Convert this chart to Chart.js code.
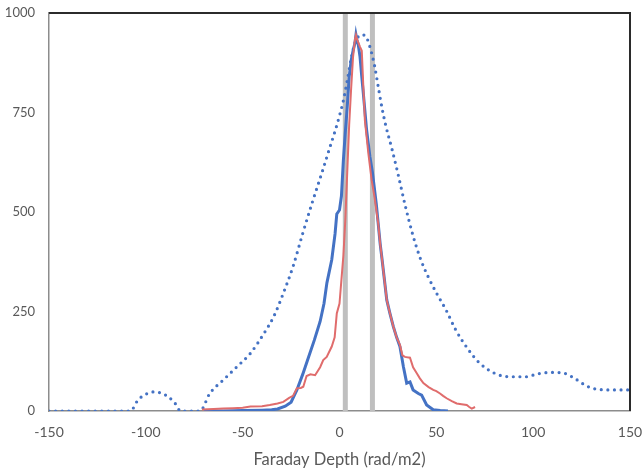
<!DOCTYPE html>
<html>
<head>
<meta charset="utf-8">
<style>
  html, body { margin: 0; padding: 0; background: #fff; }
  canvas { display: block; }
</style>
<script src="https://cdn.jsdelivr.net/npm/chart.js@4.4.1/dist/chart.umd.min.js"></script>
</head>
<body>
<canvas id="chart" width="643" height="470"></canvas>
<script>
// wide (dotted) spectrum
const wideX = [-150, -140, -130, -120, -108, -104, -100, -96, -92, -88, -85, -82, -72, -67, -60, -53, -46, -39, -34, -29, -24, -19, -14, -9, -5, -2, 0, 2, 4, 6, 8, 10, 12, 14, 16, 18, 20, 22, 24, 27, 30, 34, 38, 42, 46, 50, 55, 60, 66, 72, 80, 88, 96, 103, 110, 116, 122, 128, 134, 140, 150];
const wideY = [0, 0, 0, 0, 0, 28, 42, 48, 45, 34, 20, 0, 0, 44, 78, 111, 145, 195, 237, 296, 363, 446, 525, 600, 662, 708, 742, 780, 830, 885, 925, 942, 945, 938, 910, 870, 815, 760, 715, 660, 600, 515, 440, 380, 335, 297, 254, 204, 158, 122, 95, 86, 86, 94, 97, 95, 80, 62, 54, 53, 53];

// narrow blue spectrum
const blueX = [-70, -60, -50, -40, -35, -32, -28, -25, -22, -19, -16, -13, -10, -8, -6.5, -4, -2.3, -1.4, 0, 1, 2, 3, 4, 5, 6, 7, 8, 8.5, 9, 9.7, 10.6, 11.5, 12.3, 14, 15.7, 17, 18, 19, 20, 21, 22, 24.4, 26, 27.8, 29.5, 31.2, 33, 34.7, 36.4, 38, 40.7, 42.4, 45, 48.4, 52, 56];
const blueY = [0, 0, 1, 2, 3, 5, 12, 22, 53, 92, 135, 178, 225, 270, 322, 380, 445, 495, 505, 540, 630, 700, 765, 840, 880, 905, 925, 945, 932, 920, 890, 840, 798, 706, 639, 600, 560, 520, 470, 420, 380, 279, 246, 212, 185, 162, 111, 70, 73, 53, 44, 40, 15, 3, 1, 0];

// narrow red spectrum
const redX = [-71, -65, -60, -55, -50, -46, -40, -36, -32, -29, -26, -24, -22, -20, -18.7, -17, -15, -12.6, -10, -8.4, -6.6, -4, -2.5, -1.4, 0, 1, 2, 3, 4, 5, 6, 7, 8, 8.5, 9, 10.6, 11.5, 12.3, 13.1, 14.9, 16.6, 18, 19, 20, 21, 22, 24.4, 26, 27.8, 29.5, 31.2, 32.5, 33.8, 35, 36.4, 38, 39.9, 41.5, 43.3, 46, 48.4, 50, 51.9, 53.5, 55.3, 58, 60.5, 63, 65.7, 67, 68.3, 70];
const redY = [4, 5, 6, 7, 8, 11, 12, 15, 19, 23, 33, 38, 57, 58, 61, 88, 92, 90, 110, 128, 136, 162, 185, 245, 270, 330, 390, 480, 600, 720, 810, 890, 935, 945, 935, 915, 905, 815, 731, 647, 580, 540, 505, 470, 420, 380, 279, 246, 212, 185, 166, 140, 136, 135, 134, 110, 95, 82, 70, 60, 53, 50, 44, 38, 32, 25, 19, 17, 15, 10, 6, 10];

// marker bands
const bandX = [3, 17];

const xTicks = [-150, -100, -50, 0, 50, 100, 150];
const yTicks = [0, 250, 500, 750, 1000];

function pts(xs, ys) {
  return xs.map((x, i) => ({ x: x, y: ys[i] }));
}

const frame = {
  id: 'frame',
  afterDraw(chart) {
    const a = chart.chartArea;
    const c = chart.ctx;
    c.save();
    c.strokeStyle = '#2b2b2b';
    c.lineWidth = 2;
    c.beginPath();
    c.moveTo(a.left, a.top);
    c.lineTo(a.right, a.top);
    c.lineTo(a.right, a.bottom);
    c.stroke();
    c.restore();
  }
};

const datasets = [
  {
    data: pts(redX, redY),
    borderColor: '#e06c6c',
    borderWidth: 2,
    tension: 0
  },
  {
    data: pts(blueX, blueY),
    borderColor: '#4472c4',
    borderWidth: 3,
    tension: 0
  },
  {
    data: pts(wideX, wideY),
    borderColor: '#4472c4',
    borderWidth: 3.2,
    borderDash: [0, 6.6],
    borderCapStyle: 'round',
    cubicInterpolationMode: 'monotone'
  }
];
bandX.forEach(b => {
  datasets.push({
    data: [{ x: b, y: 0 }, { x: b, y: 1000 }],
    borderColor: '#bfbfbf',
    borderWidth: 5,
    borderCapStyle: 'butt'
  });
});

new Chart(document.getElementById('chart').getContext('2d'), {
  type: 'scatter',
  data: { datasets: datasets },
  options: {
    responsive: false,
    animation: false,
    showLine: true,
    elements: { point: { radius: 0, hoverRadius: 0 } },
    layout: { padding: { top: 13, right: 13, left: 0, bottom: 0 } },
    plugins: { legend: { display: false }, tooltip: { enabled: false } },
    scales: {
      x: {
        type: 'linear',
        min: -150,
        max: 150,
        afterBuildTicks: s => { s.ticks = xTicks.map(v => ({ value: v })); },
        afterFit: s => { s.height = 59; s.paddingLeft = 0; s.paddingRight = 0; },
        grid: { display: false, drawTicks: false },
        border: { color: '#8c8c8c', width: 1.5 },
        ticks: { padding: 13, color: '#595959', font: { family: 'Lato', size: 14 }, callback: v => String(v) },
        title: {
          display: true,
          text: 'Faraday Depth (rad/m2)',
          color: '#595959',
          font: { family: 'Lato', size: 16.5 },
          padding: { top: 0, bottom: 0 }
        }
      },
      y: {
        min: 0,
        max: 1000,
        afterBuildTicks: s => { s.ticks = yTicks.map(v => ({ value: v })); },
        afterFit: s => { s.width = 49; s.paddingTop = 0; s.paddingBottom = 0; },
        grid: { display: false, drawTicks: false },
        border: { color: '#8c8c8c', width: 1.5 },
        ticks: { padding: 14, color: '#595959', font: { family: 'Lato', size: 13 }, callback: v => String(v) }
      }
    }
  },
  plugins: [frame]
});
</script>
</body>
</html>
